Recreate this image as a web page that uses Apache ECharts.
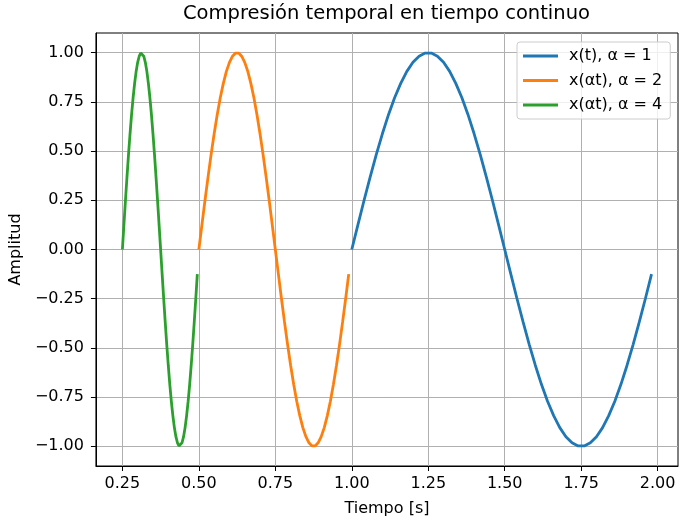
<!DOCTYPE html>
<html>
<head>
<meta charset="utf-8">
<script src="https://cdn.jsdelivr.net/npm/echarts@6/dist/echarts.min.js"></script>
<style>
  html, body { margin: 0; padding: 0; background: #ffffff; }
  #chart { width: 680px; height: 522px; }
</style>
</head>
<body>
<div id="chart"></div>
<script>
// Sampled instants (s) for each signal
const timeAlpha1 = [1.00, 1.02, 1.04, 1.06, 1.08, 1.10, 1.12, 1.14, 1.16, 1.18,
  1.20, 1.22, 1.24, 1.26, 1.28, 1.30, 1.32, 1.34, 1.36, 1.38,
  1.40, 1.42, 1.44, 1.46, 1.48, 1.50, 1.52, 1.54, 1.56, 1.58,
  1.60, 1.62, 1.64, 1.66, 1.68, 1.70, 1.72, 1.74, 1.76, 1.78,
  1.80, 1.82, 1.84, 1.86, 1.88, 1.90, 1.92, 1.94, 1.96, 1.98];
const timeAlpha2 = [0.50, 0.51, 0.52, 0.53, 0.54, 0.55, 0.56, 0.57, 0.58, 0.59,
  0.60, 0.61, 0.62, 0.63, 0.64, 0.65, 0.66, 0.67, 0.68, 0.69,
  0.70, 0.71, 0.72, 0.73, 0.74, 0.75, 0.76, 0.77, 0.78, 0.79,
  0.80, 0.81, 0.82, 0.83, 0.84, 0.85, 0.86, 0.87, 0.88, 0.89,
  0.90, 0.91, 0.92, 0.93, 0.94, 0.95, 0.96, 0.97, 0.98, 0.99];
const timeAlpha4 = [0.250, 0.255, 0.260, 0.265, 0.270, 0.275, 0.280, 0.285, 0.290, 0.295,
  0.300, 0.305, 0.310, 0.315, 0.320, 0.325, 0.330, 0.335, 0.340, 0.345,
  0.350, 0.355, 0.360, 0.365, 0.370, 0.375, 0.380, 0.385, 0.390, 0.395,
  0.400, 0.405, 0.410, 0.415, 0.420, 0.425, 0.430, 0.435, 0.440, 0.445,
  0.450, 0.455, 0.460, 0.465, 0.470, 0.475, 0.480, 0.485, 0.490, 0.495];

// Amplitude of one period of the signal (shared by the three curves)
const amplitude = [0, 0.125, 0.249, 0.368, 0.482, 0.588, 0.685, 0.771, 0.844, 0.905,
  0.951, 0.982, 0.998, 0.998, 0.982, 0.951, 0.905, 0.844, 0.771, 0.685,
  0.588, 0.482, 0.368, 0.249, 0.125, 0, -0.125, -0.249, -0.368, -0.482,
  -0.588, -0.685, -0.771, -0.844, -0.905, -0.951, -0.982, -0.998, -0.998, -0.982,
  -0.951, -0.905, -0.844, -0.771, -0.685, -0.588, -0.482, -0.368, -0.249, -0.125];

const seriesNames = ['x(t), α = 1', 'x(αt), α = 2', 'x(αt), α = 4'];
const xTicks = [0.25, 0.50, 0.75, 1.00, 1.25, 1.50, 1.75, 2.00];
const yTicks = [-1.00, -0.75, -0.50, -0.25, 0.00, 0.25, 0.50, 0.75, 1.00];

const colors = ['#1f77b4', '#ff7f0e', '#2ca02c'];
const font = 'DejaVu Sans';
const fmt = v => v.toFixed(2).replace('-', '\u2212');

const pairs = t => t.map((x, i) => [x, amplitude[i]]);
const times = [timeAlpha1, timeAlpha2, timeAlpha4];

const chart = echarts.init(document.getElementById('chart'), null, { renderer: 'canvas' });
chart.setOption({
  animation: false,
  backgroundColor: '#ffffff',
  title: {
    text: 'Compresión temporal en tiempo continuo',
    left: 183, top: 4, padding: 0,
    textStyle: { fontFamily: font, fontSize: 19.5, fontWeight: 'normal', color: '#000' }
  },
  grid: {
    left: 95, top: 33, right: 2, bottom: 53,
    show: true, borderColor: '#000', borderWidth: 1, backgroundColor: 'transparent'
  },
  legend: {
    orient: 'vertical',
    left: 517, top: 42,
    padding: [6, 8, 6, 6],
    itemGap: 8.5,
    itemWidth: 35, itemHeight: 3,
    icon: 'rect',
    backgroundColor: 'rgba(255,255,255,0.8)',
    borderColor: '#cccccc', borderWidth: 1, borderRadius: 3,
    textStyle: { fontFamily: font, fontSize: 16, color: '#000', padding: [0, 0, 0, 6] },
    data: seriesNames
  },
  xAxis: {
    type: 'value',
    min: 0.1635, max: 2.0665,
    name: 'Tiempo [s]', nameLocation: 'middle', nameGap: 35,
    nameTextStyle: { fontFamily: font, fontSize: 16, color: '#000' },
    axisLine: { onZero: false, lineStyle: { color: '#000', width: 1 } },
    axisTick: { show: true, length: 5, customValues: xTicks, lineStyle: { color: '#000' } },
    axisLabel: { customValues: xTicks, formatter: fmt, margin: 10,
      fontFamily: font, fontSize: 16, color: '#000' },
    splitLine: { show: true, lineStyle: { color: '#b0b0b0', width: 1 } }
  },
  yAxis: {
    type: 'value',
    min: -1.1, max: 1.1,
    name: 'Amplitud', nameLocation: 'middle', nameGap: 70,
    nameTextStyle: { fontFamily: font, fontSize: 16, color: '#000' },
    axisLine: { show: true, onZero: false, lineStyle: { color: '#000', width: 1 } },
    axisTick: { show: true, length: 5, customValues: yTicks, lineStyle: { color: '#000' } },
    axisLabel: { customValues: yTicks, formatter: fmt, margin: 12,
      fontFamily: font, fontSize: 16, color: '#000' },
    splitLine: { show: true, lineStyle: { color: '#b0b0b0', width: 1 } }
  },
  series: seriesNames.map((name, k) => ({
    name,
    type: 'line',
    data: pairs(times[k]),
    showSymbol: false,
    symbol: 'none',
    color: colors[k],
    lineStyle: { color: colors[k], width: 2.8 },
    z: 3 + k
  }))
});
</script>
</body>
</html>
